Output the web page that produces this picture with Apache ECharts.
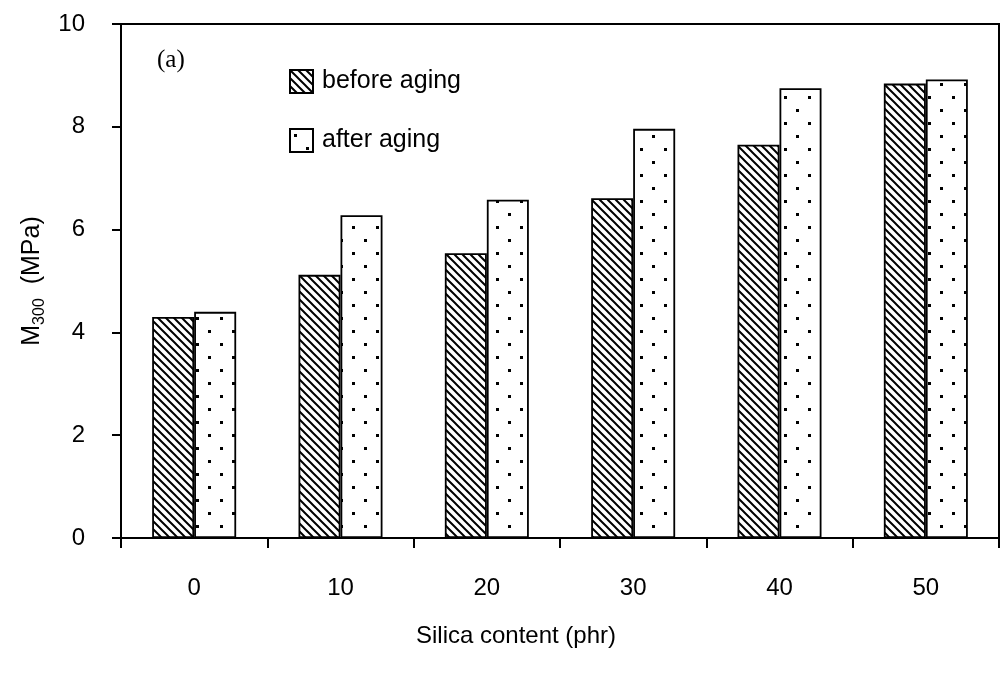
<!DOCTYPE html>
<html>
<head>
<meta charset="utf-8">
<script src="https://cdn.jsdelivr.net/npm/echarts@6/dist/echarts.min.js"></script>
<style>
  html, body { margin: 0; padding: 0; background: #fff; }
  #chart { width: 1002px; height: 675px; }
</style>
</head>
<body>
<div id="chart"></div>
<script>
// Silica content levels (phr) and 300% modulus values (MPa)
const categories = ['0', '10', '20', '30', '40', '50'];
const beforeAging = [4.3, 5.12, 5.54, 6.61, 7.65, 8.84];
const afterAging = [4.4, 6.28, 6.58, 7.96, 8.75, 8.92];
const yTicks = [0, 2, 4, 6, 8, 10];

// Diagonal hatch fill ("\" lines)
function hatchPattern() {
  const c = document.createElement('canvas');
  c.width = 8; c.height = 8;
  const g = c.getContext('2d');
  g.fillStyle = '#fff';
  g.fillRect(0, 0, 8, 8);
  g.strokeStyle = '#000';
  g.lineWidth = 2;
  g.beginPath();
  g.moveTo(-2, -2); g.lineTo(10, 10);
  g.moveTo(-2, 6); g.lineTo(2, 10);
  g.moveTo(6, -2); g.lineTo(10, 2);
  g.stroke();
  return c;
}

// Sparse staggered dot fill
function dotPattern() {
  const c = document.createElement('canvas');
  c.width = 24; c.height = 26;
  const g = c.getContext('2d');
  g.fillStyle = '#fff';
  g.fillRect(0, 0, 24, 26);
  g.fillStyle = '#000';
  g.fillRect(4, 5, 3, 3);
  g.fillRect(16, 18, 3, 3);
  return c;
}

const font = '"Liberation Sans", Arial, sans-serif';
const chart = echarts.init(document.getElementById('chart'), null, { renderer: 'canvas' });

chart.setOption({
  animation: false,
  backgroundColor: '#fff',
  grid: {
    left: 121, right: 3, top: 24, bottom: 137,
    show: true, borderColor: '#000', borderWidth: 2, backgroundColor: 'transparent'
  },
  legend: {
    orient: 'vertical',
    left: 284, top: 64,
    itemWidth: 23, itemHeight: 23, itemGap: 34,
    icon: 'rect',
    selectedMode: false,
    textStyle: { fontFamily: font, fontSize: 25, color: '#000', padding: [0, 0, 0, 4] },
    data: ['before aging', 'after aging']
  },
  graphic: [{
    type: 'text', left: 157, top: 48,
    style: { text: '(a)', font: '25px "Liberation Serif", "Times New Roman", serif', fill: '#000' }
  }],
  xAxis: {
    type: 'category',
    data: categories,
    boundaryGap: true,
    axisLine: { lineStyle: { color: '#000', width: 2 } },
    axisTick: { show: true, length: 10, lineStyle: { color: '#000', width: 2 } },
    axisLabel: { fontFamily: font, fontSize: 24, color: '#000', margin: 38 },
    name: 'Silica content (phr)',
    nameLocation: 'middle',
    nameGap: 86,
    nameTextStyle: { fontFamily: font, fontSize: 24, color: '#000', padding: [0, 88, 0, 0] },
    splitLine: { show: false }
  },
  yAxis: {
    type: 'value',
    min: yTicks[0], max: yTicks[yTicks.length - 1], interval: 2,
    axisLine: { show: true, lineStyle: { color: '#000', width: 2 } },
    axisTick: { show: true, inside: false, length: 9, lineStyle: { color: '#000', width: 2 } },
    axisLabel: { fontFamily: font, fontSize: 24, color: '#000', margin: 36 },
    splitLine: { show: false },
    name: '{m|M}{s|300}{m|  (MPa)}',
    nameLocation: 'middle',
    nameGap: 70,
    nameTextStyle: {
      color: '#000',
      rich: {
        m: { fontFamily: font, fontSize: 25, lineHeight: 30, color: '#000' },
        s: { fontFamily: font, fontSize: 16, lineHeight: 15, verticalAlign: 'bottom', color: '#000' }
      }
    }
  },
  series: [
    {
      name: 'before aging',
      type: 'bar',
      data: beforeAging,
      barWidth: 42,
      barGap: '0%',
      itemStyle: { color: { image: hatchPattern(), repeat: 'repeat' }, borderColor: '#000', borderWidth: 1.8 }
    },
    {
      name: 'after aging',
      type: 'bar',
      data: afterAging,
      barWidth: 42,
      barGap: '0%',
      itemStyle: { color: { image: dotPattern(), repeat: 'repeat' }, borderColor: '#000', borderWidth: 1.8 }
    }
  ]
});
</script>
</body>
</html>
